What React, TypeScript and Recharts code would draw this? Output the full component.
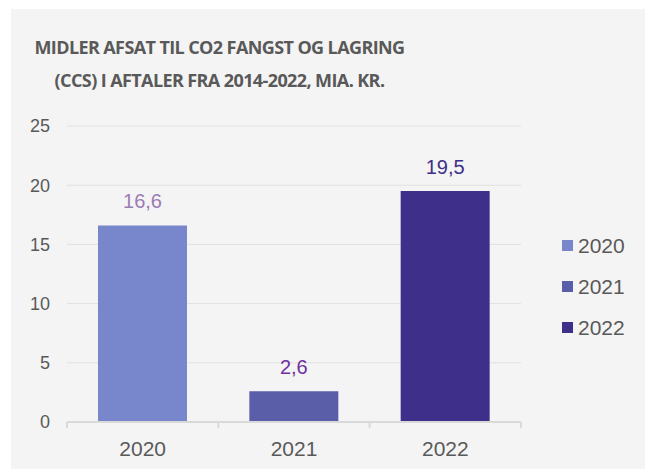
import { BarChart, Bar, XAxis, YAxis, CartesianGrid, Legend, LabelList } from "recharts";

const years = ["2020", "2021", "2022"];
const values = [16.6, 2.6, 19.5];
const yTicks = [0, 5, 10, 15, 20, 25];

const barColors = ["#7886cc", "#5a5ea8", "#3e2f8a"];
const labelColors = ["#9b7bb5", "#7030a0", "#3e2f8a"];

const W = 642;
const H = 460;
const LEGEND_W = 90;
// recharts reserves the legend width on the right, so take it off the margin
const M = { top: 117, right: 132 - LEGEND_W, bottom: 0, left: 0 };
const Y_AXIS_W = 56;
const X_AXIS_H = 47;
const BAND = (W - 132 - Y_AXIS_W) / years.length;

const FONT = "'Liberation Sans', Arial, sans-serif";
const GRAY = "#595959";

// one row per year, each year as its own series so the legend gets three entries
const data = years.map((y, i) => {
  const row: Record<string, any> = { year: y };
  row["s" + y] = values[i];
  return row;
});

const XTick = (props: any) => {
  const { x, y, payload, index } = props;
  const left = x - BAND / 2;
  return (
    <g>
      <line x1={left} x2={left} y1={y} y2={y + 6} stroke="#d9d9d9" strokeWidth={2} />
      {index === years.length - 1 && (
        <line x1={x + BAND / 2} x2={x + BAND / 2} y1={y} y2={y + 6} stroke="#d9d9d9" strokeWidth={2} />
      )}
      <text x={x} y={y + 26} textAnchor="middle" dominantBaseline="central" fill={GRAY} fontSize={21} fontFamily={FONT}>
        {payload.value}
      </text>
    </g>
  );
};

const makeLabel = (color: string) => (props: any) => {
  const { x, y, width, value } = props;
  if (value == null || value === 0) return null;
  return (
    <text x={x + width / 2} y={y - 24} textAnchor="middle" dominantBaseline="central" fill={color} fontSize={20} fontFamily={FONT}>
      {String(value).replace(".", ",")}
    </text>
  );
};

const LegendContent = () => (
  <div style={{ fontFamily: FONT }}>
    {years.map((y, i) => (
      <div key={y} style={{ display: "flex", alignItems: "center", height: 41 }}>
        <span style={{ width: 11, height: 11, background: barColors[i], marginRight: 5 }} />
        <span style={{ fontSize: 21, color: GRAY }}>{y}</span>
      </div>
    ))}
  </div>
);

export default function App() {
  return (
    <div style={{ position: "relative", width: 645, height: 461 }}>
      <div style={{ position: "absolute", left: 3, top: 1, width: W, height: H, background: "#f4f4f4" }}>
        <div
          style={{
            position: "absolute",
            left: 0,
            top: 22,
            width: 417,
            textAlign: "center",
            fontFamily: "'Open Sans', sans-serif",
            fontWeight: 700,
            fontSize: 18,
            lineHeight: "33px",
            color: GRAY,
            letterSpacing: -0.6,
          }}
        >
          MIDLER AFSAT TIL CO2 FANGST OG LAGRING
          <br />
          (CCS) I AFTALER FRA 2014-2022, MIA. KR.
        </div>
        <BarChart width={W} height={H} data={data} margin={M} barCategoryGap={31}>
          <CartesianGrid vertical={false} stroke="#e0e0e0" />
          <XAxis
            dataKey="year"
            height={X_AXIS_H}
            axisLine={{ stroke: "#d9d9d9", strokeWidth: 2 }}
            tickLine={false}
            tickSize={0}
            tickMargin={0}
            tick={<XTick />}
          />
          <YAxis
            width={Y_AXIS_W}
            domain={[0, 25]}
            ticks={yTicks}
            axisLine={false}
            tickLine={false}
            tickMargin={11}
            tick={{ fill: GRAY, fontSize: 18, fontFamily: FONT }}
          />
          <Legend
            layout="horizontal"
            verticalAlign="middle"
            align="right"
            content={<LegendContent />}
            wrapperStyle={{ position: "absolute", left: 551, top: 216, width: LEGEND_W }}
          />
          {years.map((y, i) => (
            <Bar key={y} dataKey={"s" + y} name={y} stackId="a" fill={barColors[i]} isAnimationActive={false}>
              <LabelList dataKey={"s" + y} content={makeLabel(labelColors[i])} />
            </Bar>
          ))}
        </BarChart>
      </div>
    </div>
  );
}
